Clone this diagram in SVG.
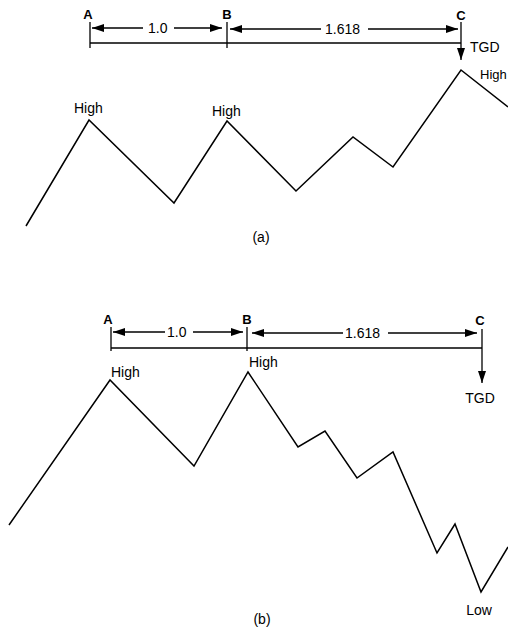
<svg xmlns="http://www.w3.org/2000/svg" width="508" height="629" viewBox="0 0 508 629">
<style>
.ln{fill:none;stroke:#000;stroke-width:1.5;stroke-linejoin:miter}
.th{fill:none;stroke:#000;stroke-width:1.3}
.t{font-family:"Liberation Sans",Arial,sans-serif;font-size:14px;fill:#000}
.lb{font-weight:bold;font-size:13px}
.c{text-anchor:middle}
</style>
<defs>
<marker id="ah" viewBox="0 0 12 8" refX="12" refY="4" markerWidth="12" markerHeight="8" markerUnits="userSpaceOnUse" orient="auto">
<path d="M0,0 L12,4 L0,8 Z" fill="#000"/>
</marker>
</defs>
<rect width="508" height="629" fill="#fff"/>
<g id="panel-a">
<g id="a-labels">
<text class="t lb c" x="88" y="19">A</text>
<text class="t lb c" x="227" y="19">B</text>
<text class="t lb c" x="461" y="20">C</text>
<text class="t" x="470" y="52">TGD</text>
<text class="t" x="74" y="113">High</text>
<text class="t" x="212" y="116">High</text>
<text class="t" x="480" y="79" style="font-size:13px">High</text>
<text class="t" x="148" y="33">1.0</text>
<text class="t" x="325" y="34">1.618</text>
<text class="t c" x="261" y="242">(a)</text>
</g>
<g id="a-connectors">
<line class="th" x1="90" y1="22" x2="90" y2="48"/>
<line class="th" x1="227" y1="22" x2="227" y2="48"/>
<line class="th" x1="90" y1="43" x2="461" y2="43"/>
<line class="th" x1="143" y1="28" x2="92" y2="28" marker-end="url(#ah)"/>
<line class="th" x1="174" y1="28" x2="222" y2="28" marker-end="url(#ah)"/>
<line class="th" x1="321" y1="29" x2="230" y2="29" marker-end="url(#ah)"/>
<line class="th" x1="368" y1="29" x2="458" y2="29" marker-end="url(#ah)"/>
<line class="th" x1="461" y1="22" x2="461" y2="60" marker-end="url(#ah)"/>
</g>
<polyline id="a-wave" class="ln" points="26,226 89,120 174,203 227,121 296,191 353,137 393,167 461,70 508,107"/>
</g>
<g id="panel-b">
<g id="b-labels">
<text class="t lb c" x="108" y="324">A</text>
<text class="t lb c" x="247" y="324">B</text>
<text class="t lb c" x="480" y="325">C</text>
<text class="t c" x="480" y="403">TGD</text>
<text class="t" x="111" y="377">High</text>
<text class="t" x="249" y="367">High</text>
<text class="t c" x="479" y="615">Low</text>
<text class="t" x="167" y="337">1.0</text>
<text class="t" x="345" y="338">1.618</text>
<text class="t c" x="262" y="624">(b)</text>
</g>
<g id="b-connectors">
<line class="th" x1="111" y1="327" x2="111" y2="351"/>
<line class="th" x1="247" y1="327" x2="247" y2="351"/>
<line class="th" x1="111" y1="348" x2="482" y2="348"/>
<line class="th" x1="165" y1="332" x2="113" y2="332" marker-end="url(#ah)"/>
<line class="th" x1="193" y1="332" x2="243" y2="332" marker-end="url(#ah)"/>
<line class="th" x1="343" y1="333" x2="252" y2="333" marker-end="url(#ah)"/>
<line class="th" x1="388" y1="333" x2="477" y2="333" marker-end="url(#ah)"/>
<line class="th" x1="482" y1="329" x2="482" y2="383" marker-end="url(#ah)"/>
</g>
<polyline id="b-wave" class="ln" points="9,525 110,380 194,466 248,372 298,447 325,431 357,478 393,452 437,553 455,524 481,592 508,547"/>
</g>
</svg>
